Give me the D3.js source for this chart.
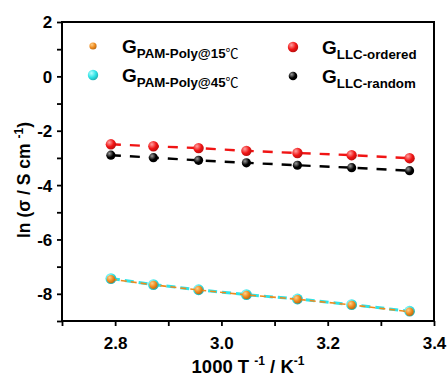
<!DOCTYPE html>
<html>
<head>
<meta charset="utf-8">
<script src="https://cdn.jsdelivr.net/npm/d3@7"></script>
<style>
  body { margin: 0; background: #fff; }
  svg { display: block; font-family: Arial, "Liberation Sans", sans-serif; font-weight: bold; }
</style>
</head>
<body>
<div id="chart"></div>
<script>
// 1000/T for 85 ... 25 °C
const invT = [2.792, 2.872, 2.957, 3.047, 3.143, 3.245, 3.354];

const llcOrdered = [-2.50, -2.57, -2.64, -2.74, -2.82, -2.90, -3.01];
const llcRandom  = [-2.90, -2.99, -3.09, -3.18, -3.27, -3.36, -3.47];
const pam15      = [-7.46, -7.67, -7.86, -8.04, -8.20, -8.41, -8.66];
const pam45      = [-7.44, -7.66, -7.85, -8.03, -8.19, -8.40, -8.64];

const xTicks = [2.8, 3.0, 3.2, 3.4];
const yTicks = [2, 0, -2, -4, -6, -8];

const series = [
  { name: 'PAM-Poly@15', unit: '℃', values: pam15, color: '#ef8a1c', light: '#ffd08a', r: 4.2, lr: 3.6, lw: 1.6, dash: '6,4', order: 1 },
  { name: 'PAM-Poly@45', unit: '℃', values: pam45, color: '#2fe3e6', light: '#b8ffff', r: 5.4, lr: 5.2, lw: 3, dash: '9,5', order: 0 },
  { name: 'LLC-ordered', unit: '', values: llcOrdered, color: '#f01414', light: '#ffa0a0', r: 5.2, lr: 5.2, lw: 2.4, dash: '10,9', order: 2 },
  { name: 'LLC-random', unit: '', values: llcRandom, color: '#000000', light: '#9a9a9a', r: 4.6, lr: 4.3, lw: 2.4, dash: '10,9', order: 3 }
];

const W = 448, H = 383;
const m = { left: 62, right: 14, top: 22, bottom: 62 };

const svg = d3.select('#chart').append('svg').attr('width', W).attr('height', H);
const defs = svg.append('defs');

series.forEach((s, i) => {
  const g = defs.append('radialGradient').attr('id', 'ball' + i)
    .attr('cx', '35%').attr('cy', '32%').attr('r', '70%');
  g.append('stop').attr('offset', '0%').attr('stop-color', s.light);
  g.append('stop').attr('offset', '60%').attr('stop-color', s.color);
  g.append('stop').attr('offset', '100%').attr('stop-color', d3.color(s.color).darker(0.7));
});

const x = d3.scaleLinear([2.7, 3.4], [m.left, W - m.right]);
const y = d3.scaleLinear([-9, 2], [H - m.bottom, m.top]);

// axes
const xAxis = svg.append('g').attr('transform', `translate(0,${H - m.bottom})`)
  .call(d3.axisBottom(x).tickValues(d3.range(2.7, 3.45, 0.1)).tickSize(5)
    .tickFormat(d => xTicks.some(t => Math.abs(t - d) < 1e-6) ? d3.format('.1f')(d) : ''));
const yAxis = svg.append('g').attr('transform', `translate(${m.left},0)`)
  .call(d3.axisLeft(y).tickValues(d3.range(-9, 2.5, 1)).tickSize(5)
    .tickFormat(d => yTicks.includes(d) ? d : ''));

[xAxis, yAxis].forEach(a => {
  a.select('.domain').remove();
  a.selectAll('.tick line').attr('stroke-width', 1.8);
  a.selectAll('.tick text').attr('font-size', 17).attr('font-weight', 'bold')
    .attr('font-family', 'Arial, "Liberation Sans", sans-serif').attr('fill', '#000');
});
xAxis.selectAll('.tick text').attr('dy', '1.2em');
yAxis.selectAll('.tick text').attr('dx', '-0.1em').attr('dy', '0.35em');

svg.append('rect')
  .attr('x', m.left).attr('y', m.top)
  .attr('width', W - m.left - m.right).attr('height', H - m.top - m.bottom)
  .attr('fill', 'none').attr('stroke', '#000').attr('stroke-width', 2);

// lines and balls
const line = d3.line().x(d => x(d[0])).y(d => y(d[1]));
const plot = svg.append('g');
series.slice().sort((a, b) => a.order - b.order).forEach(s => {
  const i = series.indexOf(s);
  const pts = invT.map((t, k) => [t, s.values[k]]);
  plot.append('path').datum(pts).attr('d', line)
    .attr('fill', 'none').attr('stroke', s.color)
    .attr('stroke-width', s.lw).attr('stroke-dasharray', s.dash);
  plot.selectAll(null).data(pts).join('circle')
    .attr('cx', d => x(d[0])).attr('cy', d => y(d[1]))
    .attr('r', s.r).attr('fill', `url(#ball${i})`);
});

// legend
const legendPos = [[93, 46], [93, 75], [293, 47], [293, 76]];
series.forEach((s, i) => {
  const [lx, ly] = legendPos[i];
  svg.append('circle').attr('cx', lx).attr('cy', ly).attr('r', s.lr)
    .attr('fill', `url(#ball${i})`);
  const t = svg.append('text').attr('x', lx + 29).attr('y', ly + 7).attr('font-size', 19);
  t.append('tspan').text('G');
  t.append('tspan').attr('font-size', 13.3).attr('dy', 5).text(s.name);
  if (s.unit) {
    t.append('tspan').attr('font-size', 13).attr('font-weight', 'normal')
      .attr('font-family', '"Noto Sans CJK SC", sans-serif').text(s.unit);
  }
});

// axis titles
const xt = svg.append('text').attr('x', 248).attr('y', 373).attr('text-anchor', 'middle').attr('font-size', 18.5);
xt.append('tspan').text('1000 T ');
xt.append('tspan').attr('font-size', 12).attr('dy', -8).text('-1');
xt.append('tspan').attr('dy', 8).text(' / K');
xt.append('tspan').attr('font-size', 12).attr('dy', -8).text('-1');

const yt = svg.append('text').attr('transform', 'translate(30,180) rotate(-90)')
  .attr('text-anchor', 'middle').attr('font-size', 17.5);
yt.append('tspan').text('ln (σ / S cm ');
yt.append('tspan').attr('font-size', 12).attr('dy', -7).text('-1');
yt.append('tspan').attr('dy', 7).text(')');
</script>
</body>
</html>
